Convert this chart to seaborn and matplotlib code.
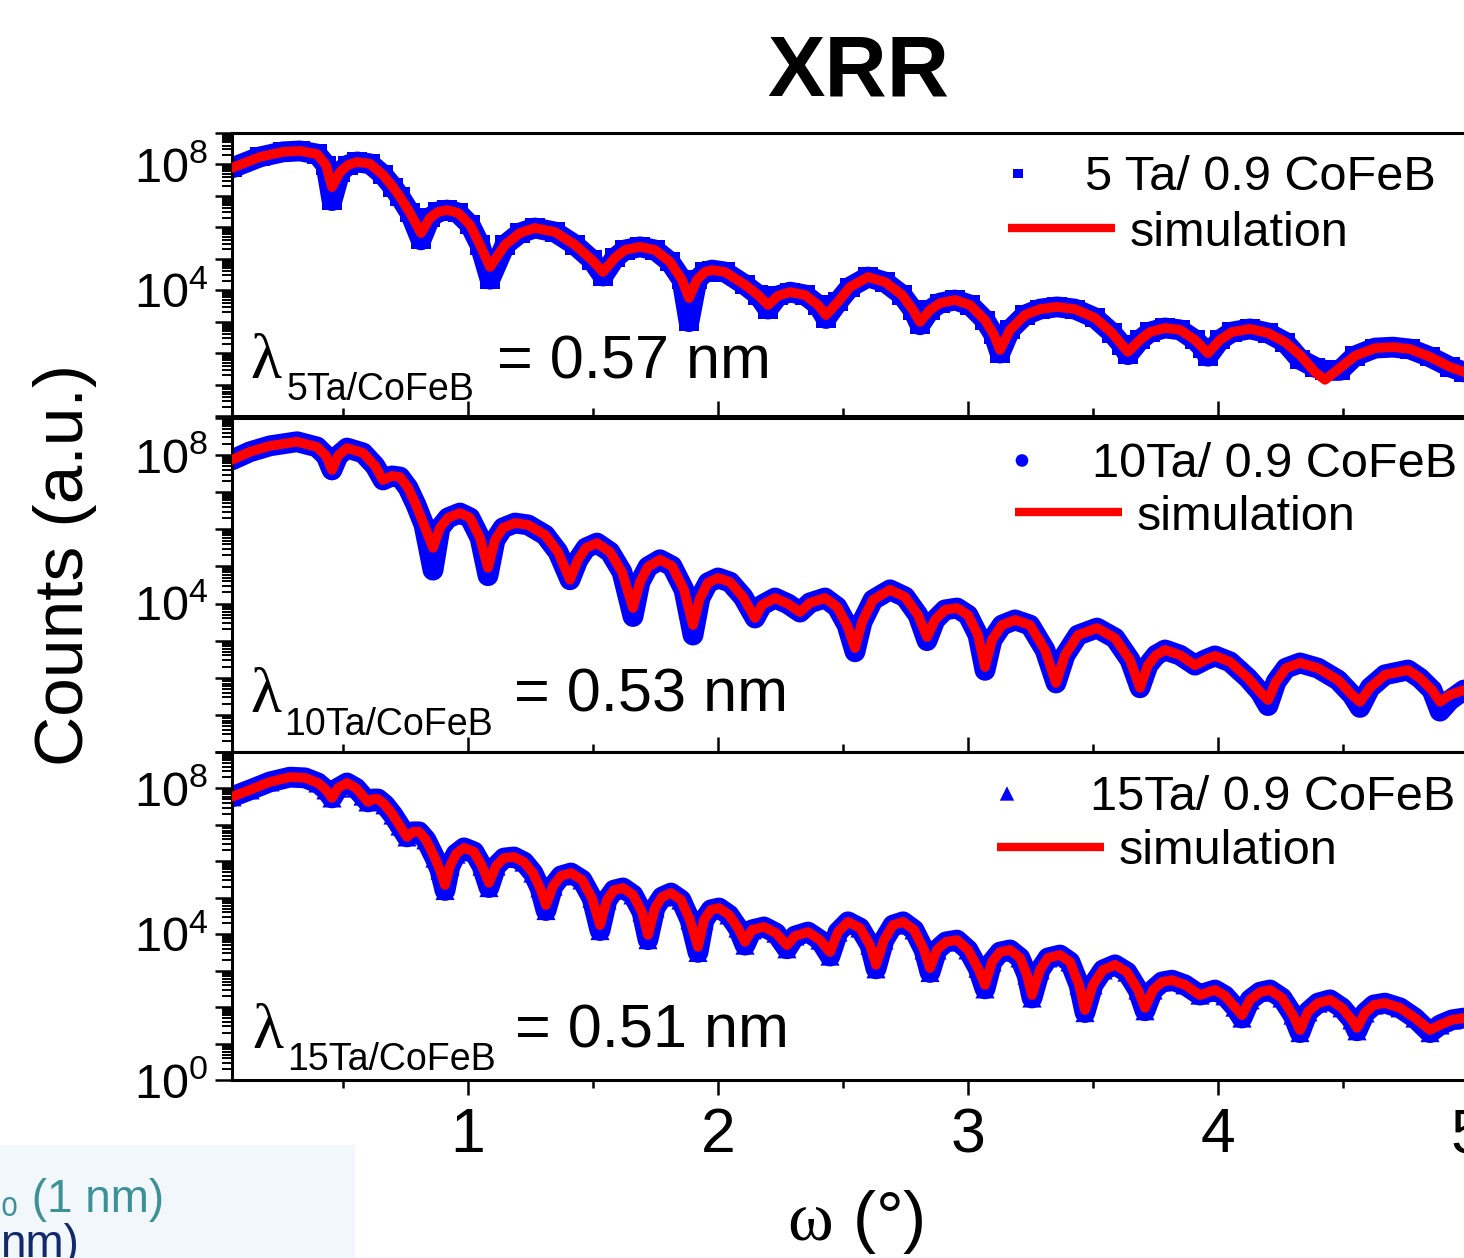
import numpy as np
import pandas as pd
import matplotlib
matplotlib.use("Agg")
import matplotlib.pyplot as plt
import seaborn as sns
from matplotlib.ticker import LogLocator, FuncFormatter, NullFormatter, MultipleLocator
from matplotlib.patches import Rectangle

# ---------------- data: omega (deg) and log10(counts) of the simulation curves ----------------
omega_5 = [0.056,0.168,0.260,0.328,0.396,0.432,0.456,0.488,0.520,0.556,0.608,0.660,0.700,0.728,0.768,0.812,
           0.848,0.880,0.916,0.960,1.008,1.048,1.088,1.148,1.208,1.268,1.348,1.428,1.496,1.540,1.588,1.628,
           1.688,1.748,1.808,1.856,1.884,1.916,1.948,1.976,2.028,2.108,2.160,2.200,2.240,2.288,2.348,2.400,
           2.432,2.480,2.528,2.600,2.668,2.736,2.780,2.808,2.848,2.888,2.948,3.008,3.068,3.104,3.128,3.168,
           3.228,3.288,3.356,3.428,3.508,3.576,3.616,3.640,3.688,3.728,3.788,3.848,3.908,3.940,3.960,4.008,
           4.056,4.128,4.200,4.268,4.328,4.388,4.428,4.488,4.548,4.628,4.700,4.768,4.848,4.928,4.984]
sim_5 = [7.89,8.24,8.40,8.43,8.33,7.98,7.28,7.76,7.98,8.08,8.02,7.67,7.28,6.97,6.46,5.82,
         6.30,6.49,6.55,6.46,6.08,5.44,4.74,5.44,5.82,5.98,5.85,5.44,4.96,4.58,5.03,5.28,
         5.38,5.28,4.90,4.33,3.75,4.33,4.58,4.64,4.58,4.17,3.85,3.53,3.82,3.94,3.85,3.53,
         3.21,3.63,4.10,4.42,4.26,3.85,3.37,2.99,3.37,3.59,3.69,3.53,3.05,2.58,2.10,2.74,
         3.21,3.40,3.47,3.40,3.12,2.64,2.26,2.04,2.42,2.67,2.80,2.74,2.42,2.16,2.00,2.42,
         2.67,2.77,2.64,2.35,1.94,1.40,1.15,1.53,1.91,2.16,2.19,2.13,1.88,1.56,1.40]
# measured points that sit off the simulation (deeper or flatter minima)
dip_5_omega = [0.456,0.812,1.088,1.540,1.884,2.200,2.432,2.808,3.128,3.640,3.960,4.328,4.388,4.428,4.488]
dip_5_log = [6.85,5.60,4.35,4.45,3.00,3.40,3.10,2.90,2.00,1.95,1.90,1.80,1.55,1.45,1.45]

omega_10 = [0.056,0.128,0.208,0.316,0.396,0.432,0.456,0.480,0.516,0.580,0.628,0.660,0.696,0.728,0.760,0.792,
            0.824,0.860,0.888,0.920,0.968,1.008,1.048,1.080,1.108,1.140,1.188,1.240,1.308,1.360,1.408,1.440,
            1.472,1.516,1.568,1.616,1.660,1.688,1.720,1.768,1.816,1.864,1.900,1.928,1.960,2.000,2.048,2.100,
            2.148,2.176,2.228,2.280,2.328,2.368,2.428,2.476,2.516,2.548,2.576,2.620,2.688,2.748,2.800,2.836,
            2.868,2.908,2.956,3.000,3.040,3.068,3.096,3.136,3.188,3.248,3.308,3.352,3.388,3.440,3.516,3.588,
            3.648,3.688,3.720,3.752,3.788,3.848,3.908,3.948,3.988,4.048,4.120,4.168,4.200,4.232,4.272,4.328,
            4.400,4.480,4.536,4.568,4.608,4.668,4.760,4.808,4.856,4.888,4.928,4.984]
sim_10 = [7.87,8.09,8.25,8.36,8.22,7.98,7.60,7.98,8.19,8.06,7.71,7.33,7.44,7.41,7.12,6.66,
          6.12,5.50,6.04,6.31,6.44,6.31,5.77,4.96,5.71,6.04,6.17,6.12,5.85,5.39,4.64,5.18,
          5.50,5.63,5.39,4.85,3.88,4.58,4.99,5.18,5.01,4.37,3.42,4.15,4.56,4.69,4.58,4.18,
          3.61,3.96,4.15,3.99,3.77,4.02,4.15,3.91,3.42,2.80,3.50,4.10,4.37,4.18,3.69,3.10,
          3.56,3.83,3.88,3.69,3.15,2.29,3.02,3.42,3.56,3.42,2.75,1.86,2.61,3.15,3.34,3.07,
          2.48,1.73,2.34,2.61,2.75,2.61,2.34,2.48,2.59,2.43,1.99,1.62,1.40,1.89,2.26,2.40,
          2.26,1.94,1.54,1.35,1.73,2.08,2.21,1.99,1.67,1.35,1.54,1.67]
dip_10_omega = [0.860,1.080,1.660,1.900,2.548,2.836,3.068,4.200,4.568,4.888,4.928]
dip_10_log = [4.90,4.75,3.65,3.15,2.70,3.00,2.20,1.25,1.20,1.10,1.40]

omega_15 = [0.056,0.128,0.208,0.288,0.348,0.400,0.432,0.456,0.480,0.516,0.552,0.580,0.600,0.620,0.640,0.668,
            0.700,0.728,0.756,0.780,0.804,0.832,0.868,0.888,0.908,0.928,0.952,0.984,1.024,1.056,1.084,1.112,
            1.144,1.184,1.224,1.260,1.288,1.312,1.340,1.372,1.412,1.456,1.496,1.528,1.556,1.584,1.620,1.660,
            1.696,1.720,1.748,1.776,1.812,1.852,1.888,1.920,1.944,1.972,2.004,2.044,2.080,2.108,2.136,2.184,
            2.232,2.276,2.308,2.360,2.408,2.448,2.480,2.520,2.568,2.608,2.632,2.664,2.700,2.740,2.784,2.824,
            2.848,2.876,2.912,2.956,3.000,3.040,3.068,3.096,3.128,3.168,3.208,3.236,3.256,3.288,3.320,3.368,
            3.408,3.444,3.468,3.500,3.540,3.588,3.636,3.680,3.708,3.740,3.776,3.816,3.868,3.928,3.960,3.988,
            4.028,4.068,4.096,4.128,4.168,4.208,4.256,4.300,4.328,4.360,4.400,4.448,4.496,4.536,4.556,4.588,
            4.624,4.668,4.728,4.788,4.848,4.888,4.936,4.984]
sim_15 = [7.77,7.96,8.18,8.31,8.29,8.15,7.96,7.74,8.01,8.15,8.01,7.79,7.63,7.71,7.71,7.55,
          7.27,6.97,6.67,6.81,6.81,6.59,6.09,5.76,5.35,5.87,6.20,6.37,6.26,5.87,5.41,5.87,
          6.09,6.12,5.98,5.68,5.27,4.80,5.32,5.60,5.68,5.49,4.99,4.25,4.94,5.21,5.27,5.08,
          4.61,3.98,4.72,5.02,5.13,4.94,4.39,3.65,4.39,4.67,4.72,4.53,4.17,3.79,4.12,4.20,
          4.03,3.70,3.95,4.06,3.84,3.51,4.06,4.34,4.17,3.70,3.16,3.84,4.25,4.34,4.12,3.57,
          3.07,3.57,3.79,3.84,3.57,3.07,2.61,3.24,3.51,3.57,3.35,2.88,2.33,3.02,3.35,3.43,
          3.24,2.61,1.92,2.61,3.02,3.16,2.96,2.47,1.98,2.47,2.69,2.74,2.61,2.33,2.41,2.47,
          2.31,2.00,1.78,2.20,2.41,2.47,2.25,1.78,1.37,1.87,2.11,2.20,1.98,1.65,1.43,1.84,
          2.06,2.11,1.98,1.70,1.37,1.51,1.65,1.70]
dip_15_omega = [0.908,1.084,1.312,1.528,1.720,1.920,2.108,2.276,2.448,2.632,2.848,3.068,3.256,3.468,3.708,
                4.096,4.328,4.556,4.848]
dip_15_log = [5.20,5.28,4.65,4.10,3.85,3.50,3.70,3.60,3.40,3.05,2.95,2.50,2.25,1.85,1.90,1.70,1.30,1.35,1.30]

sample_labels = ["5 Ta/ 0.9 CoFeB", "10Ta/ 0.9 CoFeB", "15Ta/ 0.9 CoFeB"]
period_labels = ["5Ta/CoFeB", "10Ta/CoFeB", "15Ta/CoFeB"]
period_values = ["0.57", "0.53", "0.51"]
sim_label = "simulation"

# ---------------- style ----------------
sns.set_style("ticks")
plt.rcParams["font.family"] = ["Liberation Sans", "DejaVu Sans"]
plt.rcParams.update({
    "mathtext.fontset": "custom",
    "mathtext.rm": "Liberation Serif",
    "mathtext.it": "Liberation Serif:italic",
    "mathtext.sf": "Liberation Sans",
    "mathtext.bf": "Liberation Sans:bold",
    "mathtext.default": "regular",
    "axes.linewidth": 2.2,
    "text.color": "black",
    "axes.labelcolor": "black",
    "axes.edgecolor": "black",
    "xtick.color": "black",
    "ytick.color": "black",
})

W, H = 1464, 1258
fig = plt.figure(figsize=(W / 100, H / 100), dpi=100)

def rect(left, top, right, bottom):
    return [left / W, 1 - bottom / H, (right - left) / W, (bottom - top) / H]

def with_dips(omega, sim, d_omega, d_log):
    out = np.array(sim, dtype=float)
    om = np.array(omega)
    for o, v in zip(d_omega, d_log):
        out[np.argmin(np.abs(om - o))] = v
    return out

panels = [
    dict(x=omega_5, sim=sim_5, meas=with_dips(omega_5, sim_5, dip_5_omega, dip_5_log), marker="s",
         rect=rect(232, 133, 1493, 416), ylabels=(4, 8), leg1=(964.5, 178), pad1=0.28, mscale=0.5,
         leg2=(1008, 233), lam=(250, 378), sub=(287, 400), eq=(497, 378)),
    dict(x=omega_10, sim=sim_10, meas=with_dips(omega_10, sim_10, dip_10_omega, dip_10_log), marker="o",
         rect=rect(232, 418, 1493, 752), ylabels=(4, 8), leg1=(968.5, 465), pad1=0.34, mscale=0.66,
         leg2=(1015, 517), lam=(250, 712), sub=(284, 735), eq=(514, 712)),
    dict(x=omega_15, sim=sim_15, meas=with_dips(omega_15, sim_15, dip_15_omega, dip_15_log), marker="^",
         rect=rect(232, 752, 1493, 1080), ylabels=(0, 4, 8), leg1=(953.5, 798), pad1=0.61, mscale=0.75,
         leg2=(997, 852), lam=(252, 1048), sub=(287, 1070), eq=(515, 1048)),
]

def make_fmt(labels):
    def f(v, pos):
        e = int(round(np.log10(v)))
        return r"$\mathregular{10^{%d}}$" % e if e in labels else ""
    return FuncFormatter(f)

for i, p in enumerate(panels):
    ax = fig.add_axes(p["rect"])
    ax.set_yscale("log")
    df = pd.DataFrame({"omega": p["x"],
                       "meas": 10 ** np.array(p["meas"]),
                       "sim": 10 ** np.array(p["sim"])})
    # measured data: dense blue band + markers
    sns.lineplot(data=df, x="omega", y="meas", ax=ax, color="blue", lw=15, sort=False,
                 estimator=None, solid_joinstyle="round", solid_capstyle="round", zorder=1)
    sns.scatterplot(data=df, x="omega", y="meas", ax=ax, marker=p["marker"], s=190,
                    color="blue", edgecolor="none", zorder=2, legend=False)
    sc = ax.collections[-1]
    # simulation
    sns.lineplot(data=df, x="omega", y="sim", ax=ax, color="red", lw=7, sort=False,
                 estimator=None, solid_joinstyle="round", zorder=3)
    ln = ax.lines[-1]

    ax.set_xlim(0.056, 5.1)
    ax.set_ylim(1, 1e9)
    ax.set_xlabel("")
    ax.set_ylabel("")
    ax.xaxis.set_major_locator(MultipleLocator(1))
    ax.xaxis.set_minor_locator(MultipleLocator(0.5))
    ax.yaxis.set_major_locator(LogLocator(base=10, numticks=20))
    ax.yaxis.set_minor_locator(LogLocator(base=10, subs=np.arange(2, 10), numticks=20))
    ax.yaxis.set_major_formatter(make_fmt(p["ylabels"]))
    ax.yaxis.set_minor_formatter(NullFormatter())
    ax.tick_params(axis="y", which="major", direction="out", length=12, width=1.8,
                   labelsize=35, pad=5, left=True, right=False)
    ax.tick_params(axis="y", which="minor", direction="out", length=7, width=1.4)
    if i < 2:
        ax.tick_params(axis="x", which="both", direction="in", labelbottom=False, top=False)
    else:
        ax.tick_params(axis="x", which="both", direction="out", labelsize=45, pad=8, top=False)
    ax.tick_params(axis="x", which="major", length=11, width=1.8)
    ax.tick_params(axis="x", which="minor", length=6, width=1.8)
    for s in ax.spines.values():
        s.set_linewidth(2.2)
        s.set_color("black")

    # period annotation: lambda + subscript + value
    fig.text(p["lam"][0] / W, 1 - p["lam"][1] / H, "λ", fontsize=46,
             family=["Liberation Serif", "DejaVu Serif"], ha="left", va="baseline")
    fig.text(p["sub"][0] / W, 1 - p["sub"][1] / H, period_labels[i], fontsize=27,
             ha="left", va="baseline")
    fig.text(p["eq"][0] / W, 1 - p["eq"][1] / H, "= %s nm" % period_values[i], fontsize=44,
             ha="left", va="baseline")

    common = dict(loc="center left", bbox_transform=fig.transFigure, frameon=False,
                  fontsize=35, handlelength=2.2, borderpad=0, borderaxespad=0)
    leg1 = ax.legend(handles=[sc], labels=[sample_labels[i]],
                     bbox_to_anchor=(p["leg1"][0] / W, 1 - p["leg1"][1] / H),
                     handletextpad=p["pad1"], markerscale=p["mscale"], scatterpoints=1,
                     scatteryoffsets=[0.5], **common)
    ax.add_artist(leg1)
    leg2 = ax.legend(handles=[ln], labels=[sim_label], handletextpad=0.3,
                     bbox_to_anchor=(p["leg2"][0] / W, 1 - p["leg2"][1] / H), **common)
    for h in leg2.get_lines():
        h.set_linewidth(6)
        h.set_solid_capstyle("butt")

# figure texts
fig.text(858 / W, 1 - 73 / H, "XRR", fontsize=62, fontweight="bold", ha="center", va="center")
fig.text(65 / W, 1 - 565 / H, "Counts (a.u.)", rotation=90, fontsize=50, ha="center", va="center")
fig.text(855 / W, 1 - 1222 / H, r"$\mathrm{\omega}$ (°)", fontsize=50, ha="center", va="center")

# cropped fragment of a neighbouring panel (bottom left)
fig.add_artist(Rectangle((0, 0), 355 / W, (H - 1145) / H, transform=fig.transFigure,
                         facecolor="#f2f7fb", edgecolor="none", zorder=0))
fig.text(0.0, 1 - 1212 / H, "₀ (1 nm)", color="#3c9196", fontsize=33, ha="left", va="baseline",
         family=["Liberation Sans", "DejaVu Sans"])
fig.text(0.0, 1 - 1257 / H, "nm)", color="#12296b", fontsize=33, ha="left", va="baseline")

fig.savefig("out.png", dpi=100)
